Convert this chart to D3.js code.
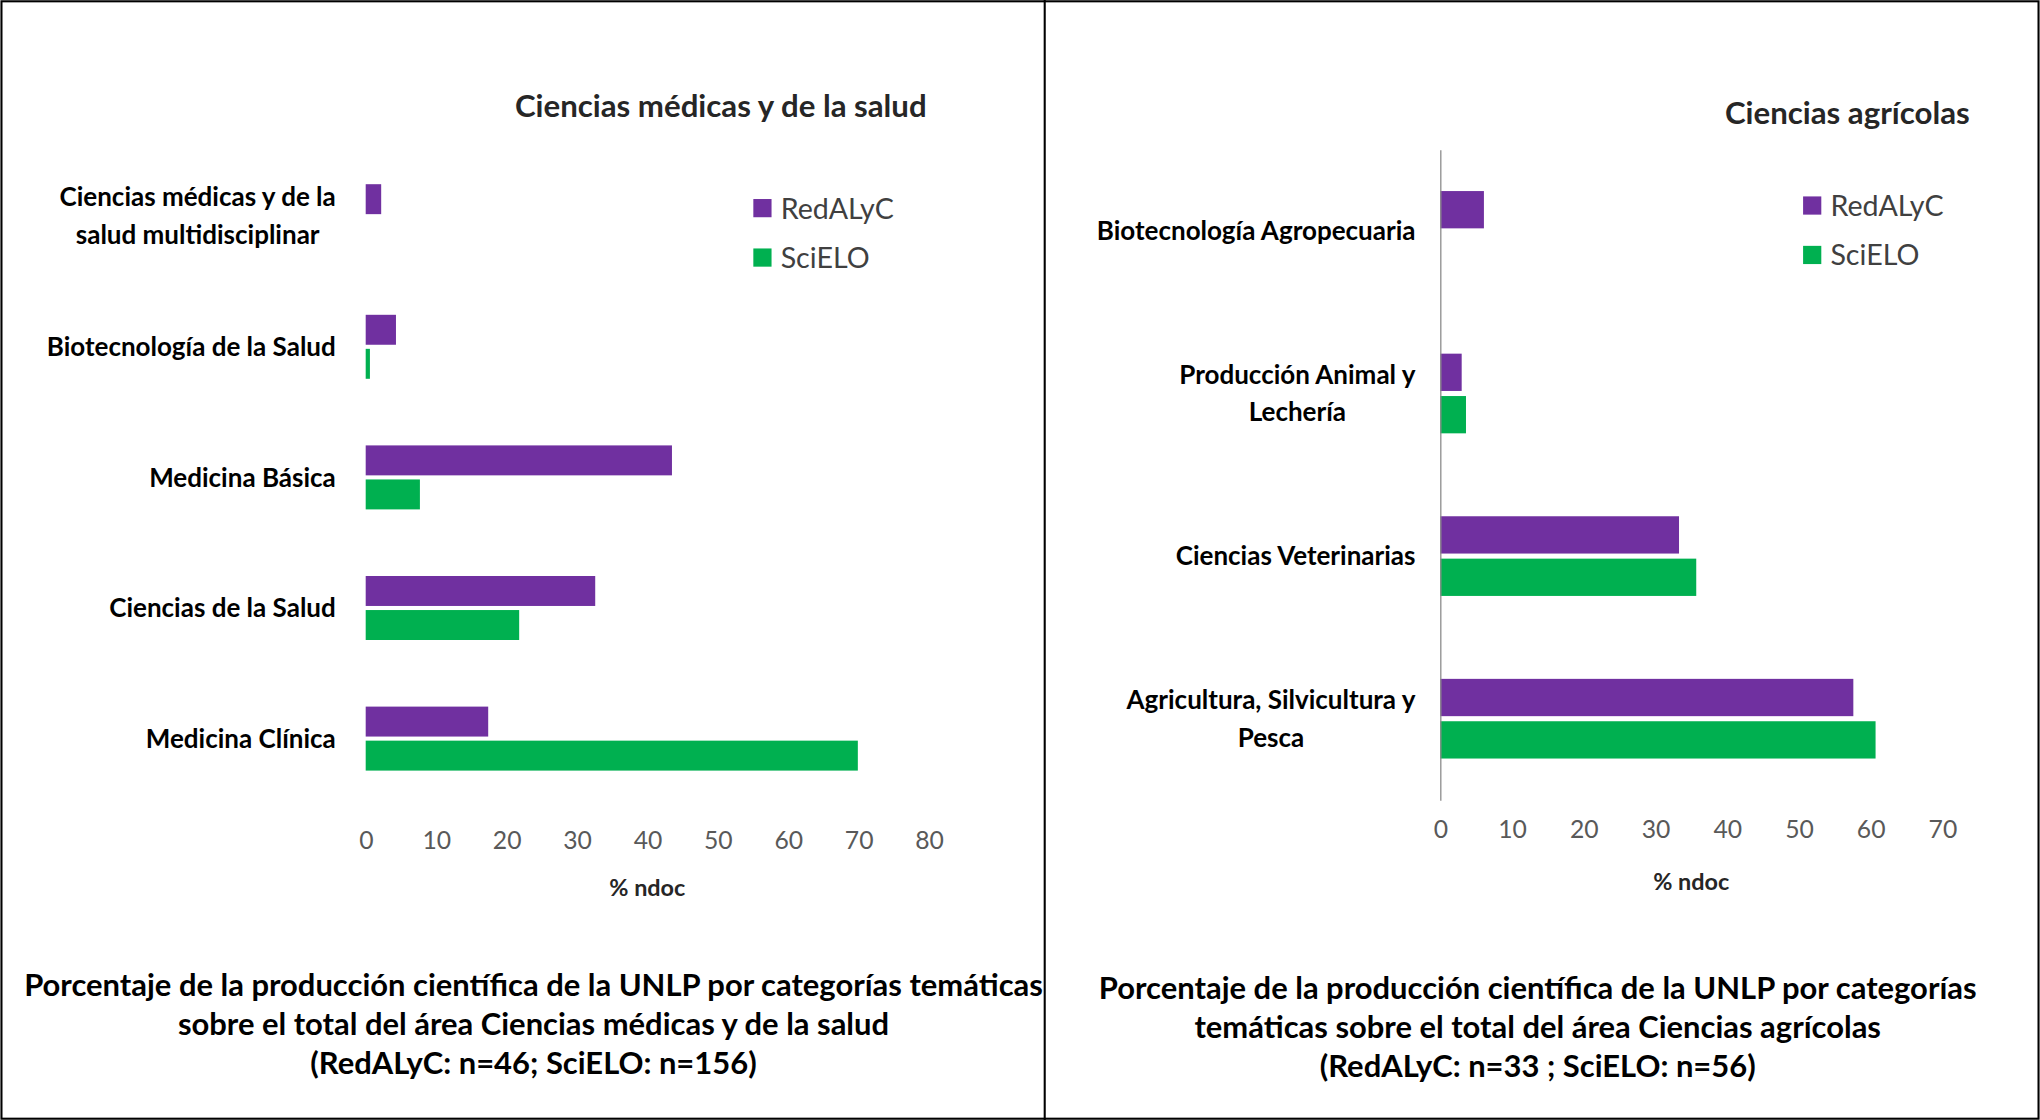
<!DOCTYPE html>
<html>
<head>
<meta charset="utf-8">
<script src="https://cdn.jsdelivr.net/npm/d3@7"></script>
<style>
  html, body { margin: 0; padding: 0; background: #fff; }
  svg { display: block; }
  text { font-family: Lato, "Open Sans", "Liberation Sans", sans-serif; }
</style>
</head>
<body>
<script>
// datos (% ndoc)
var series = ['RedALyC', 'SciELO'];
var colors = ['#7030A0', '#00B050'];

var medCategories = ['Ciencias médicas y de la\nsalud multidisciplinar', 'Biotecnología de la Salud',
  'Medicina Básica', 'Ciencias de la Salud', 'Medicina Clínica'];
var medRedalyc = [2.2, 4.3, 43.5, 32.6, 17.4];
var medScielo = [0, 0.6, 7.7, 21.8, 69.9];
var medTicks = [0, 10, 20, 30, 40, 50, 60, 70, 80];

var agrCategories = ['Biotecnología Agropecuaria', 'Producción Animal y\nLechería',
  'Ciencias Veterinarias', 'Agricultura, Silvicultura y\nPesca'];
var agrRedalyc = [6.1, 3.0, 33.3, 57.6];
var agrScielo = [0, 3.6, 35.7, 60.7];
var agrTicks = [0, 10, 20, 30, 40, 50, 60, 70];

var medTitle = 'Ciencias médicas y de la salud';
var agrTitle = 'Ciencias agrícolas';
var axisTitle = '% ndoc';
var medCaption = ['Porcentaje de la producción científica de la UNLP por categorías temáticas',
  'sobre el total del área Ciencias médicas y de la salud',
  '(RedALyC: n=46; SciELO: n=156)'];
var agrCaption = ['Porcentaje de la producción científica de la UNLP por categorías',
  'temáticas sobre el total del área Ciencias agrícolas',
  '(RedALyC: n=33 ; SciELO: n=56)'];

var width = 2040;
var height = 1120;
// se dibuja en un espacio de 1568 x 861 y se escala
var W = 1568, H = 861;

var svg = d3.select('body').append('svg')
  .attr('width', width)
  .attr('height', height)
  .attr('viewBox', '0 0 ' + W + ' ' + H);

svg.append('rect').attr('width', W).attr('height', H).attr('fill', '#fff');

function drawPanel(p) {
  var g = svg.append('g');

  var x = d3.scaleLinear().domain(p.xDomain).range(p.xRange);
  var y = d3.scaleBand().domain(p.categories).range(p.yRange)
    .paddingInner(p.pad).paddingOuter(p.pad / 2);
  var ySub = d3.scaleBand().domain(series).range([0, y.bandwidth()]).paddingInner(0.12);

  var rows = p.categories.map(function (c, i) {
    return { cat: c, values: [p.red[i], p.sci[i]] };
  });

  // barras
  var grp = g.selectAll('.grp').data(rows).enter().append('g')
    .attr('class', 'grp')
    .attr('transform', function (d) { return 'translate(0,' + y(d.cat) + ')'; });
  grp.selectAll('rect')
    .data(function (d) { return d.values.map(function (v, k) { return { s: series[k], v: v, k: k }; }); })
    .enter().append('rect')
    .attr('x', x(0))
    .attr('y', function (d) { return ySub(d.s); })
    .attr('width', function (d) { return x(d.v) - x(0); })
    .attr('height', ySub.bandwidth())
    .attr('fill', function (d) { return colors[d.k]; });

  // eje vertical
  if (p.yLine) {
    g.append('g')
      .attr('transform', 'translate(' + x(0) + ',0)')
      .call(d3.axisLeft(y).tickSize(0).tickSizeOuter(0).tickFormat(''))
      .select('.domain').attr('stroke', '#8c8c8c').attr('stroke-width', 1);
  }

  // etiquetas de categorias (lineas centradas entre si, bloque alineado a la derecha)
  rows.forEach(function (d) {
    var lines = d.cat.split('\n');
    var cy = y(d.cat) + y.bandwidth() / 2;
    var lab = g.append('g');
    var ts = lab.selectAll('text').data(lines).enter().append('text')
      .attr('x', 0)
      .attr('y', function (l, i) { return cy + 7 + (i - (lines.length - 1) / 2) * 29; })
      .attr('text-anchor', 'middle')
      .attr('font-size', 20)
      .attr('font-weight', 'bold')
      .attr('fill', '#000')
      .text(function (l) { return l; });
    var maxW = 0;
    ts.each(function () { maxW = Math.max(maxW, this.getComputedTextLength()); });
    ts.attr('x', p.labelRight - maxW / 2);
  });

  // eje x
  var ax = g.append('g')
    .attr('transform', 'translate(0,' + p.tickY + ')')
    .call(d3.axisBottom(x).tickValues(p.ticks).tickSize(0).tickPadding(0));
  ax.select('.domain').remove();
  ax.selectAll('text')
    .attr('font-size', 19)
    .attr('fill', '#595959')
    .style('font-family', 'Lato, "Open Sans", sans-serif');

  g.append('text')
    .attr('x', (p.xRange[0] + p.xRange[1]) / 2)
    .attr('y', p.axisTitleY)
    .attr('text-anchor', 'middle')
    .attr('font-size', 18)
    .attr('font-weight', 'bold')
    .attr('fill', '#262626')
    .text(axisTitle);

  // titulo
  g.append('text')
    .attr('x', p.titleX)
    .attr('y', p.titleY)
    .attr('text-anchor', 'middle')
    .attr('font-size', 24)
    .attr('font-weight', 'bold')
    .attr('fill', '#262626')
    .text(p.title);

  // leyenda
  var leg = g.selectAll('.leg').data(series).enter().append('g')
    .attr('class', 'leg')
    .attr('transform', function (d, i) { return 'translate(' + p.legX + ',' + (p.legY + i * 38) + ')'; });
  leg.append('rect').attr('width', 14).attr('height', 14)
    .attr('fill', function (d, i) { return colors[i]; });
  leg.append('text')
    .attr('x', 21).attr('y', 15)
    .attr('font-size', 22)
    .attr('fill', '#404040')
    .text(function (d) { return d; });

  // texto al pie
  g.selectAll('.cap').data(p.caption).enter().append('text')
    .attr('class', 'cap')
    .attr('x', p.capX)
    .attr('y', function (d, i) { return p.capY + i * 30; })
    .attr('text-anchor', 'middle')
    .attr('font-size', 23.8)
    .attr('font-weight', 'bold')
    .attr('fill', '#000')
    .text(function (d) { return d; });
}

drawPanel({
  categories: medCategories, red: medRedalyc, sci: medScielo, ticks: medTicks,
  xDomain: [0, 80], xRange: [281, 714], yRange: [116, 618], pad: 0.51,
  yLine: false, labelRight: 258, tickY: 639, axisTitleY: 689,
  title: medTitle, titleX: 554, titleY: 90,
  legX: 579, legY: 153,
  caption: medCaption, capX: 410, capY: 766
});

drawPanel({
  categories: agrCategories, red: agrRedalyc, sci: agrScielo, ticks: agrTicks,
  xDomain: [0, 70], xRange: [1107, 1493], yRange: [115, 615], pad: 0.51,
  yLine: true, labelRight: 1088, tickY: 631, axisTitleY: 684,
  title: agrTitle, titleX: 1420, titleY: 95,
  legX: 1386, legY: 151,
  caption: agrCaption, capX: 1182, capY: 768
});

// marco y division
svg.append('rect').attr('x', 1).attr('y', 1).attr('width', W - 2).attr('height', H - 2)
  .attr('fill', 'none').attr('stroke', '#000').attr('stroke-width', 1.6);
svg.append('line').attr('x1', 803).attr('x2', 803).attr('y1', 0).attr('y2', H)
  .attr('stroke', '#000').attr('stroke-width', 1.6);
</script>
</body>
</html>
